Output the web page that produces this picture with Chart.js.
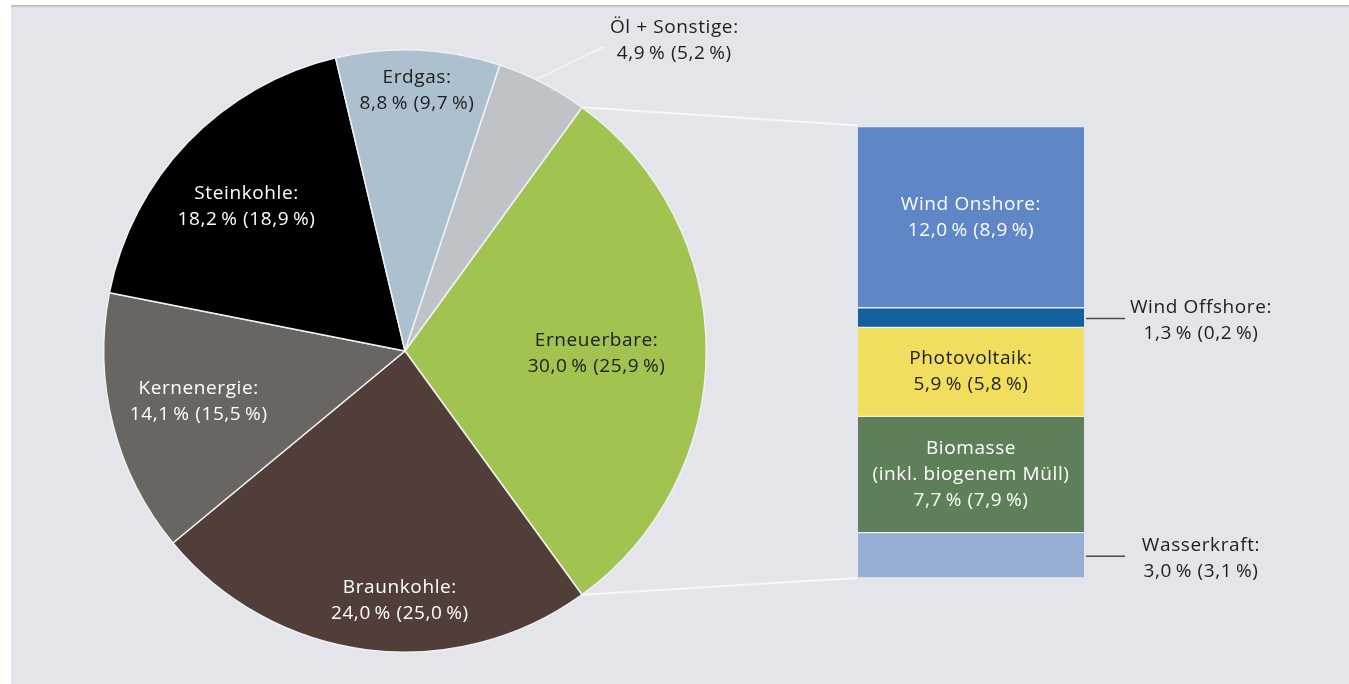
<!DOCTYPE html>
<html>
<head>
<meta charset="utf-8">
<script src="https://cdn.jsdelivr.net/npm/chart.js@4.4.0/dist/chart.umd.min.js"></script>
<style>
    html, body { margin: 0; padding: 0; background: #ffffff; }
    #wrap { position: relative; width: 1349px; height: 684px; overflow: hidden; }
    #panel {
        position: absolute; left: 11px; top: 5px; right: 0; bottom: 0;
        background: linear-gradient(#b4b5b9 0px, #d2d3d7 2px, #e4e5ea 3px);
    }
    canvas { position: absolute; left: 0; top: 0; }
</style>
</head>
<body>
<div id="wrap">
    <div id="panel"></div>
    <canvas id="pieChart" width="1349" height="684"></canvas>
    <canvas id="barChart" width="1349" height="684"></canvas>
</div>
<script>
// Gross electricity generation shares (current year, previous year in brackets)
const mainLabels = ['Erneuerbare', 'Braunkohle', 'Kernenergie', 'Steinkohle', 'Erdgas', 'Öl + Sonstige'];
const mainValues = [30.0, 24.0, 14.1, 18.2, 8.8, 4.9];
const mainPrev = [25.9, 25.0, 15.5, 18.9, 9.7, 5.2];

// Renewables breakdown, bottom to top of the stacked bar
const renewLabels = ['Wasserkraft', 'Biomasse', 'Photovoltaik', 'Wind Offshore', 'Wind Onshore'];
const renewValues = [3.0, 7.7, 5.9, 1.3, 12.0];
const renewPrev = [3.1, 7.9, 5.8, 0.2, 8.9];

const mainColors = ['#a1c350', '#523e39', '#686562', '#000000', '#adc0d0', '#bfc3c7'];
const mainText = ['#1d1d1b', '#ffffff', '#ffffff', '#ffffff', '#1d1d1b', '#1d1d1b'];
// label centres, in units of the pie radius from its centre
const mainLabelPos = [[0.636, 0.007], [-0.017, 0.828], [-0.685, 0.169], [-0.526, -0.480], [0.040, -0.864], [0.894, -1.030]];

const renewColors = ['#96aed4', '#5f7f5a', '#f1dd5e', '#14609a', '#5f86c6'];
const renewText = ['#1d1d1b', '#ffffff', '#1d1d1b', '#1d1d1b', '#ffffff'];
const renewInside = [false, true, true, false, true];
const renewNames = ['Wasserkraft:', 'Biomasse\n(inkl. biogenem Müll)', 'Photovoltaik:', 'Wind Offshore:', 'Wind Onshore:'];

const FONT = '19px "Open Sans", Roboto, sans-serif';
const LINE = 26;

function pct(v) {
    return v.toFixed(1).replace('.', ',') + '\u2009%';
}

function labelLines(name, v, prev) {
    const lines = name.split('\n');
    lines.push(pct(v) + ' (' + pct(prev) + ')');
    return lines;
}

function drawLines(ctx, lines, x, y, color) {
    ctx.save();
    ctx.font = FONT;
    ctx.letterSpacing = '0.6px';
    ctx.fillStyle = color;
    ctx.textAlign = 'center';
    ctx.textBaseline = 'middle';
    const top = y - (lines.length - 1) * LINE / 2;
    lines.forEach((t, i) => ctx.fillText(t, x, top + i * LINE));
    ctx.restore();
}

// Pie labels
const pieLabelPlugin = {
    id: 'pieLabels',
    afterDraw(chart) {
        const ctx = chart.ctx;
        const arcs = chart.getDatasetMeta(0).data;
        arcs.forEach((arc, i) => {
            const r = arc.outerRadius;
            const x = arc.x + mainLabelPos[i][0] * r;
            const y = arc.y + mainLabelPos[i][1] * r;
            drawLines(ctx, labelLines(mainLabels[i] + ':', mainValues[i], mainPrev[i]), x, y, mainText[i]);
        });
        // leader line for the small slice
        const last = arcs[arcs.length - 1];
        const mid = (last.startAngle + last.endAngle) / 2 - 0.025;
        ctx.save();
        ctx.strokeStyle = '#f7f7f9';
        ctx.lineWidth = 1.5;
        ctx.beginPath();
        ctx.moveTo(last.x + Math.cos(mid) * last.outerRadius, last.y + Math.sin(mid) * last.outerRadius);
        ctx.lineTo(last.x + 0.66 * last.outerRadius, last.y - 1.01 * last.outerRadius);
        ctx.stroke();
        ctx.restore();
    }
};

const pieChart = new Chart(document.getElementById('pieChart').getContext('2d'), {
    type: 'pie',
    data: {
        labels: mainLabels,
        datasets: [{
            data: mainValues,
            backgroundColor: mainColors,
            borderColor: '#f0f1f4',
            borderWidth: 1.5
        }]
    },
    options: {
        responsive: false,
        animation: false,
        rotation: 36,
        layout: { padding: { left: 103, right: 642, top: 49, bottom: 31 } },
        plugins: { legend: { display: false }, tooltip: { enabled: false } }
    },
    plugins: [pieLabelPlugin]
});

// Bar labels + connectors to the pie
const barLabelPlugin = {
    id: 'barLabels',
    afterDraw(chart) {
        const ctx = chart.ctx;
        let barTop = null, barBottom = null, barLeft = null;
        chart.data.datasets.forEach((ds, i) => {
            const bar = chart.getDatasetMeta(i).data[0];
            const left = bar.x - bar.width / 2;
            const right = bar.x + bar.width / 2;
            const midY = (bar.y + bar.base) / 2;
            barLeft = left;
            if (barBottom === null) barBottom = bar.base;
            barTop = bar.y;
            const lines = labelLines(renewNames[i], renewValues[i], renewPrev[i]);
            if (renewInside[i]) {
                drawLines(ctx, lines, bar.x, midY, renewText[i]);
            } else {
                ctx.save();
                ctx.strokeStyle = '#4a4a4a';
                ctx.lineWidth = 1.5;
                ctx.beginPath();
                ctx.moveTo(right + 2, midY + 1);
                ctx.lineTo(right + 41, midY + 1);
                ctx.stroke();
                ctx.restore();
                drawLines(ctx, lines, right + 117, midY + 3, '#1d1d1b');
            }
        });

        // connectors from the renewables slice to the bar
        const arc = pieChart.getDatasetMeta(0).data[0];
        const r = arc.outerRadius;
        ctx.save();
        ctx.strokeStyle = '#f7f7f9';
        ctx.lineWidth = 2;
        ctx.beginPath();
        ctx.moveTo(arc.x + Math.cos(arc.startAngle) * r, arc.y + Math.sin(arc.startAngle) * r);
        ctx.lineTo(barLeft - 1, barTop - 1);
        ctx.moveTo(arc.x + Math.cos(arc.endAngle) * r, arc.y + Math.sin(arc.endAngle) * r);
        ctx.lineTo(barLeft - 1, barBottom);
        ctx.stroke();
        ctx.restore();
    }
};

new Chart(document.getElementById('barChart').getContext('2d'), {
    type: 'bar',
    data: {
        labels: ['Erneuerbare'],
        datasets: renewLabels.map((name, i) => ({
            label: name,
            data: [renewValues[i]],
            backgroundColor: renewColors[i],
            borderColor: '#edeef2',
            borderWidth: { top: 1, bottom: 1, left: 0, right: 0 },
            borderSkipped: false,
            barPercentage: 1,
            categoryPercentage: 1
        }))
    },
    options: {
        responsive: false,
        animation: false,
        layout: { padding: { left: 858, right: 265, top: 125, bottom: 106 } },
        scales: {
            x: { stacked: true, display: false },
            y: { stacked: true, display: false, min: 0, max: 30 }
        },
        plugins: { legend: { display: false }, tooltip: { enabled: false } }
    },
    plugins: [barLabelPlugin]
});
</script>
</body>
</html>
